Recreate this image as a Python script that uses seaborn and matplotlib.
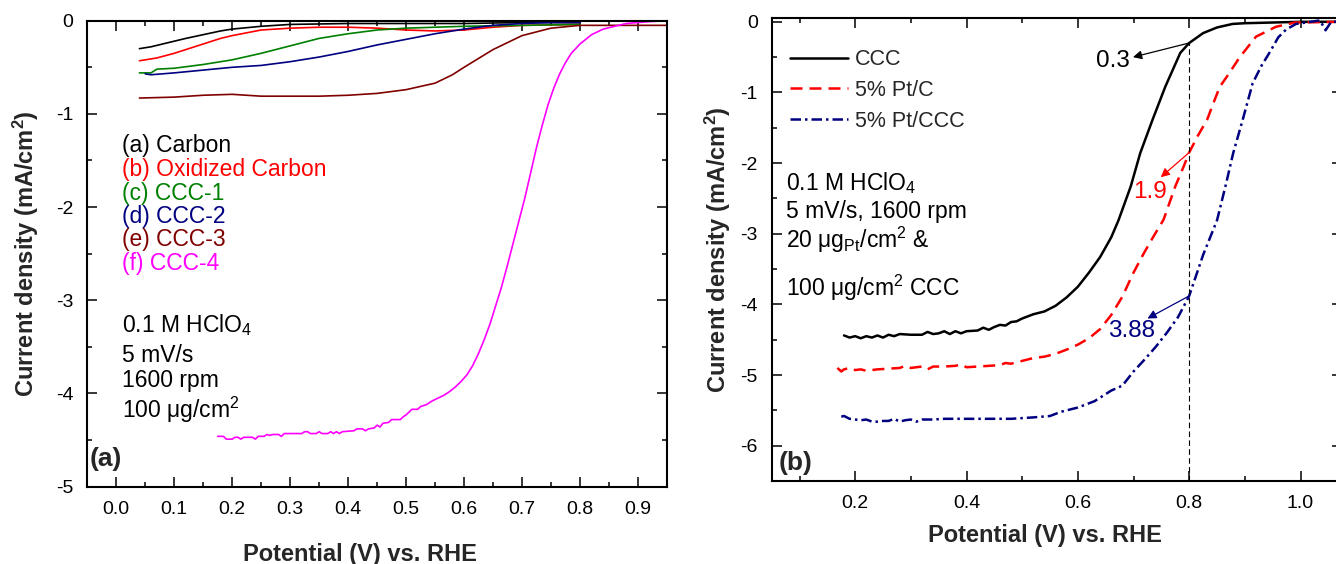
import numpy as np
import pandas as pd
import seaborn as sns
import matplotlib.pyplot as plt
from matplotlib.ticker import MultipleLocator, FormatStrFormatter

# ---------------- panel (a): carbons, 0.1 M HClO4 ----------------
carbon_v = [0.04, 0.06, 0.08, 0.10, 0.12, 0.15, 0.18, 0.20, 0.25, 0.30, 0.40, 0.50, 0.60, 0.70, 0.80]
carbon_j = [-0.30, -0.28, -0.25, -0.22, -0.19, -0.15, -0.11, -0.09, -0.06, -0.04, -0.03, -0.03, -0.03, -0.02, -0.02]

oxid_v = [0.04, 0.07, 0.10, 0.13, 0.15, 0.18, 0.20, 0.25, 0.30, 0.35, 0.40, 0.45, 0.50, 0.55, 0.60, 0.65, 0.70, 0.80]
oxid_j = [-0.43, -0.40, -0.35, -0.29, -0.25, -0.19, -0.16, -0.10, -0.08, -0.07, -0.07, -0.08, -0.10, -0.11, -0.10, -0.07, -0.05, -0.04]

ccc1_v = [0.04, 0.06, 0.07, 0.10, 0.15, 0.20, 0.25, 0.30, 0.35, 0.40, 0.45, 0.50, 0.60, 0.70, 0.80]
ccc1_j = [-0.56, -0.56, -0.52, -0.51, -0.47, -0.42, -0.35, -0.27, -0.19, -0.14, -0.10, -0.08, -0.06, -0.05, -0.04]

ccc2_v = [0.05, 0.06, 0.10, 0.15, 0.20, 0.25, 0.30, 0.35, 0.40, 0.45, 0.50, 0.55, 0.60, 0.65, 0.70, 0.75, 0.80]
ccc2_j = [-0.57, -0.58, -0.56, -0.53, -0.50, -0.48, -0.44, -0.39, -0.33, -0.26, -0.20, -0.14, -0.09, -0.05, -0.03, -0.02, -0.02]

ccc3_v = [0.04, 0.10, 0.15, 0.20, 0.25, 0.30, 0.35, 0.40, 0.45, 0.50, 0.55, 0.58, 0.60, 0.65, 0.70, 0.75, 0.80, 0.95]
ccc3_j = [-0.83, -0.82, -0.80, -0.79, -0.81, -0.81, -0.81, -0.80, -0.78, -0.74, -0.67, -0.58, -0.50, -0.31, -0.16, -0.08, -0.05, -0.05]

ccc4_v = [0.175, 0.185, 0.19, 0.20, 0.205, 0.21, 0.215, 0.22, 0.235, 0.24, 0.245, 0.255, 0.26, 0.265,
          0.27, 0.28, 0.285, 0.29, 0.32, 0.325, 0.33, 0.335, 0.345, 0.35, 0.355, 0.365, 0.37, 0.375,
          0.38, 0.385, 0.39, 0.41, 0.415, 0.425, 0.43, 0.435, 0.445, 0.45, 0.455, 0.46, 0.47, 0.475,
          0.49, 0.495, 0.50, 0.505, 0.51, 0.52, 0.525, 0.535, 0.545, 0.555, 0.565, 0.575, 0.585,
          0.595, 0.605, 0.615, 0.625, 0.635, 0.645, 0.655, 0.665, 0.675, 0.685, 0.695, 0.705, 0.715,
          0.725, 0.735, 0.745, 0.755, 0.765, 0.775, 0.785, 0.80, 0.82, 0.84, 0.86, 0.88, 0.90, 0.92, 0.95]
ccc4_j = [-4.46, -4.46, -4.49, -4.49, -4.47, -4.47, -4.49, -4.47, -4.47, -4.49, -4.46, -4.46, -4.44, -4.45,
          -4.44, -4.44, -4.46, -4.43, -4.43, -4.41, -4.41, -4.43, -4.43, -4.41, -4.43, -4.43, -4.41, -4.43,
          -4.41, -4.43, -4.41, -4.40, -4.38, -4.38, -4.40, -4.38, -4.37, -4.34, -4.36, -4.32, -4.31, -4.28,
          -4.28, -4.25, -4.23, -4.20, -4.17, -4.17, -4.14, -4.12, -4.08, -4.05, -4.02, -3.98, -3.93,
          -3.87, -3.80, -3.70, -3.57, -3.42, -3.25, -3.05, -2.85, -2.62, -2.38, -2.14, -1.90, -1.63,
          -1.36, -1.12, -0.90, -0.72, -0.57, -0.45, -0.35, -0.25, -0.15, -0.09, -0.06, -0.03, -0.02, -0.01, 0.00]

a_labels = ["(a) Carbon", "(b) Oxidized Carbon", "(c) CCC-1", "(d) CCC-2", "(e) CCC-3", "(f) CCC-4"]
a_colors = ["black", "#FF0000", "#008000", "#000080", "#800000", "#FF00FF"]

# ---------------- panel (b): Pt catalysts ----------------
ccc_v = [0.18, 0.19, 0.20, 0.21, 0.22, 0.23, 0.24, 0.25, 0.26, 0.27, 0.28, 0.30, 0.32, 0.33, 0.34, 0.35,
         0.36, 0.37, 0.38, 0.39, 0.40, 0.42, 0.43, 0.44, 0.45, 0.46, 0.47, 0.48, 0.49, 0.50, 0.52, 0.54,
         0.56, 0.58, 0.60, 0.62, 0.64, 0.66, 0.673, 0.695, 0.712, 0.734, 0.757, 0.784, 0.80, 0.825,
         0.85, 0.878, 0.90, 0.95, 1.00, 1.07]
ccc_j = [-4.44, -4.47, -4.45, -4.48, -4.45, -4.47, -4.44, -4.47, -4.43, -4.45, -4.42, -4.43, -4.43, -4.39, -4.42, -4.41,
         -4.38, -4.42, -4.38, -4.41, -4.38, -4.37, -4.33, -4.36, -4.32, -4.29, -4.30, -4.25, -4.24, -4.20, -4.14, -4.10,
         -4.02, -3.90, -3.75, -3.55, -3.33, -3.05, -2.81, -2.33, -1.86, -1.39, -0.92, -0.44, -0.30, -0.16,
         -0.08, -0.03, -0.02, -0.01, 0.00, 0.00]

ptc_v = [0.168, 0.175, 0.18, 0.19, 0.20, 0.21, 0.22, 0.24, 0.26, 0.28, 0.29, 0.30, 0.32, 0.33, 0.34, 0.36,
         0.38, 0.39, 0.40, 0.42, 0.44, 0.46, 0.47, 0.48, 0.50, 0.52, 0.54, 0.56, 0.58, 0.60, 0.62, 0.64,
         0.66, 0.68, 0.70, 0.719, 0.735, 0.754, 0.775, 0.79, 0.80, 0.815, 0.832, 0.845, 0.855, 0.87,
         0.89, 0.92, 0.956, 0.99, 1.07]
ptc_j = [-4.90, -4.95, -4.92, -4.90, -4.93, -4.92, -4.94, -4.92, -4.91, -4.90, -4.87, -4.90, -4.88, -4.92, -4.88, -4.88,
         -4.87, -4.85, -4.89, -4.88, -4.87, -4.86, -4.83, -4.84, -4.80, -4.76, -4.74, -4.70, -4.64, -4.57, -4.48, -4.35,
         -4.15, -3.89, -3.55, -3.27, -3.05, -2.80, -2.33, -2.05, -1.85, -1.62, -1.39, -1.12, -0.92, -0.75,
         -0.51, -0.21, -0.07, -0.01, 0.00]

ptccc_v = [0.175, 0.18, 0.19, 0.20, 0.21, 0.22, 0.23, 0.24, 0.25, 0.26, 0.27, 0.28, 0.29, 0.30, 0.31, 0.32,
           0.34, 0.36, 0.40, 0.44, 0.48, 0.52, 0.55, 0.57, 0.60, 0.62, 0.63, 0.64, 0.66, 0.68, 0.70, 0.72,
           0.74, 0.76, 0.78, 0.80, 0.825, 0.85, 0.866, 0.879, 0.896, 0.914, 0.93, 0.944, 0.96, 0.974,
           0.992, 1.01, 1.035, 1.045, 1.055, 1.07]
ptccc_j = [-5.59, -5.58, -5.62, -5.63, -5.64, -5.63, -5.66, -5.66, -5.65, -5.65, -5.62, -5.66, -5.64, -5.63, -5.66, -5.63,
           -5.63, -5.62, -5.62, -5.62, -5.62, -5.60, -5.58, -5.52, -5.46, -5.40, -5.37, -5.32, -5.22, -5.15, -4.95, -4.78,
           -4.60, -4.40, -4.18, -3.88, -3.30, -2.81, -2.30, -1.86, -1.39, -0.87, -0.62, -0.44, -0.22, -0.11,
           -0.03, -0.01, 0.02, -0.12, 0.00, 0.00]

b_labels = ["CCC", "5% Pt/C", "5% Pt/CCC"]
b_colors = ["black", "#FF0000", "#000080"]

sns.set_theme(style="ticks")
plt.rcParams['font.family'] = ['Liberation Sans', 'DejaVu Sans']
plt.rcParams['mathtext.fontset'] = 'custom'
plt.rcParams['mathtext.rm'] = 'Liberation Sans'
plt.rcParams['mathtext.it'] = 'Liberation Sans:italic'
plt.rcParams['mathtext.bf'] = 'Liberation Sans:bold'
plt.rcParams['mathtext.default'] = 'regular'
plt.rcParams['axes.unicode_minus'] = False


def style_axis(ax, ypad):
    for s in ax.spines.values():
        s.set_linewidth(1.5)
        s.set_color("black")
    ax.tick_params(which='both', direction='in', top=True, right=True, colors='black',
                   labelsize=14, pad=10)
    ax.tick_params(which='major', length=7, width=1.1)
    ax.tick_params(which='minor', length=3.5, width=1.1)
    ax.yaxis.set_major_locator(MultipleLocator(1))
    ax.yaxis.set_minor_locator(MultipleLocator(0.5))
    ax.yaxis.set_major_formatter(FormatStrFormatter('%d'))
    ax.set_ylabel(r"Current density (mA/cm$^\mathbf{2}$)", fontsize=17, fontweight='bold', labelpad=ypad)


fig = plt.figure(figsize=(13.36, 5.64), dpi=100)
ax1 = fig.add_axes([0.0653, 0.1371, 0.4339, 0.8262])
ax2 = fig.add_axes([0.5776, 0.1472, 0.4271, 0.8204])

# ---- panel (a)
series_a = [(carbon_v, carbon_j), (oxid_v, oxid_j), (ccc1_v, ccc1_j),
            (ccc2_v, ccc2_j), (ccc3_v, ccc3_j), (ccc4_v, ccc4_j)]
for (v, j), c in zip(series_a, a_colors):
    sns.lineplot(x=v, y=j, ax=ax1, color=c, lw=1.2, estimator=None, sort=False)

ax1.set_xlim(-0.05, 0.95)
ax1.set_ylim(-5, 0)
style_axis(ax1, 11)
ax1.xaxis.set_major_locator(MultipleLocator(0.1))
ax1.xaxis.set_minor_locator(MultipleLocator(0.05))
ax1.xaxis.set_major_formatter(FormatStrFormatter('%.1f'))
ax1.set_xlabel("Potential (V) vs. RHE", fontsize=17, fontweight='bold', labelpad=18)
ax1.xaxis.label.set_x(0.47)

a_text_y = [-1.34, -1.60, -1.85, -2.10, -2.35, -2.60]
for lab, c, yy in zip(a_labels, a_colors, a_text_y):
    ax1.text(0.01, yy, lab, color=c, fontsize=16.5, va='center', ha='left')

a_cond = ["0.1 M HClO$_4$", "5 mV/s", "1600 rpm", "100 μg/cm$^2$"]
for lab, yy in zip(a_cond, [-3.27, -3.59, -3.86, -4.18]):
    ax1.text(0.01, yy, lab, color='black', fontsize=16.5, va='center', ha='left')
ax1.text(-0.046, -4.7, "(a)", fontsize=19, fontweight='bold', va='center', ha='left')

# ---- panel (b)
series_b = [(ccc_v, ccc_j), (ptc_v, ptc_j), (ptccc_v, ptccc_j)]
b_styles = ['-', (0, (4.8, 2.8)), (0, (4.2, 1.6, 1.0, 1.6))]
for (v, j), c, ls, lab in zip(series_b, b_colors, b_styles, b_labels):
    sns.lineplot(x=v, y=j, ax=ax2, color=c, lw=1.8, linestyle=ls, label=lab,
                 estimator=None, sort=False)

ax2.set_xlim(0.05, 1.075)
ax2.set_ylim(-6.5, 0.05)
style_axis(ax2, 5)
ax2.xaxis.set_major_locator(MultipleLocator(0.2))
ax2.xaxis.set_minor_locator(MultipleLocator(0.1))
ax2.xaxis.set_major_formatter(FormatStrFormatter('%.1f'))
ax2.set_xlabel("Potential (V) vs. RHE", fontsize=17, fontweight='bold', labelpad=9)
ax2.xaxis.label.set_x(0.479)

ax2.legend(loc='upper left', bbox_to_anchor=(0.032, 0.933), frameon=False, fontsize=15.5,
           handlelength=2.7, handletextpad=0.3, labelspacing=0.45, borderpad=0, borderaxespad=0)

# vertical marker at 0.8 V and the read-off values
ax2.plot([0.8, 0.8], [-6.5, -0.3], color='black', lw=0.8, linestyle=(0, (5, 3)))
marks = [("0.3", -0.30, (0.699, -0.50), (0.663, -0.56), 'black'),
         ("1.9", -1.85, (0.749, -2.20), (0.730, -2.41), '#FF0000'),
         ("3.88", -3.88, (0.725, -4.20), (0.697, -4.38), '#000080')]
for txt, yv, head, tpos, c in marks:
    ax2.annotate("", xy=head, xytext=(0.8, yv),
                 arrowprops=dict(arrowstyle='-|>', color=c, lw=0.9, mutation_scale=13,
                                 shrinkA=0, shrinkB=0))
    ax2.text(tpos[0], tpos[1], txt, color=c, fontsize=17.5, ha='center', va='center')

b_cond = ["0.1 M HClO$_4$", "5 mV/s, 1600 rpm", "20 μg$_{Pt}$/cm$^2$ &", "100 μg/cm$^2$ CCC"]
for lab, yy in zip(b_cond, [-2.28, -2.69, -3.09, -3.76]):
    ax2.text(0.075, yy, lab, color='black', fontsize=16.5, va='center', ha='left')
ax2.text(0.062, -6.24, "(b)", fontsize=19, fontweight='bold', va='center', ha='left')

fig.savefig("out.png", dpi=100)
